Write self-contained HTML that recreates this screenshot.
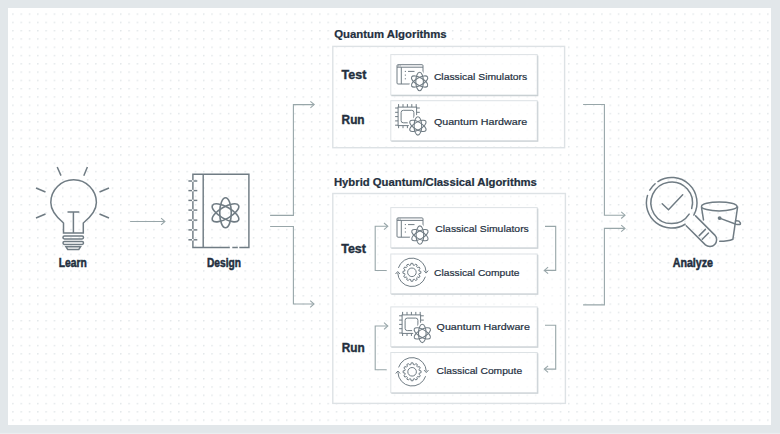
<!DOCTYPE html><html><head><meta charset="utf-8"><style>html,body{margin:0;padding:0;background:#e2e7ea;}svg{display:block;font-family:"Liberation Sans",sans-serif;}</style></head><body>
<svg width="780" height="434" viewBox="0 0 780 434">
<defs><pattern id="dots" x="12.2" y="13.4" width="8.296" height="8.286" patternUnits="userSpaceOnUse"><circle cx="0.7" cy="0.7" r="0.85" fill="#e1e6e9"/></pattern></defs>
<rect x="0" y="0" width="780" height="434" fill="#e2e7ea"/><rect x="0" y="432.8" width="780" height="1.2" fill="#eaeef0"/>
<rect x="8" y="8" width="763" height="417" fill="#fff"/>
<rect x="8" y="8" width="763" height="417" fill="url(#dots)"/>
<rect x="332.8" y="46.4" width="231.8" height="101.3" fill="#fff" fill-opacity="0.5" stroke="#dde2e5" stroke-width="1.4"/>
<rect x="332.8" y="193.5" width="232.6" height="209.9" fill="#fff" fill-opacity="0.5" stroke="#dde2e5" stroke-width="1.4"/>
<rect x="390.8" y="54.6" width="146.4" height="40.4" fill="#fff" fill-opacity="0.6" stroke="#dde2e5" stroke-width="1"/><path d="M391.3,95.6 H537.8000000000001 V55.4" fill="none" stroke="#c9d0d3" stroke-width="1.1"/>
<rect x="390.8" y="100.7" width="146.4" height="40.0" fill="#fff" fill-opacity="0.6" stroke="#dde2e5" stroke-width="1"/><path d="M391.3,141.29999999999998 H537.8000000000001 V101.5" fill="none" stroke="#c9d0d3" stroke-width="1.1"/>
<rect x="390.8" y="207.6" width="146.4" height="40.10000000000001" fill="#fff" fill-opacity="0.6" stroke="#dde2e5" stroke-width="1"/><path d="M391.3,248.29999999999998 H537.8000000000001 V208.4" fill="none" stroke="#c9d0d3" stroke-width="1.1"/>
<rect x="390.8" y="254" width="146.4" height="39.7" fill="#fff" fill-opacity="0.6" stroke="#dde2e5" stroke-width="1"/><path d="M391.3,294.3 H537.8000000000001 V254.8" fill="none" stroke="#c9d0d3" stroke-width="1.1"/>
<rect x="390.8" y="306.9" width="146.4" height="39.7" fill="#fff" fill-opacity="0.6" stroke="#dde2e5" stroke-width="1"/><path d="M391.3,347.2 H537.8000000000001 V307.7" fill="none" stroke="#c9d0d3" stroke-width="1.1"/>
<rect x="390.8" y="352.5" width="146.4" height="40.2" fill="#fff" fill-opacity="0.6" stroke="#dde2e5" stroke-width="1"/><path d="M391.3,393.3 H537.8000000000001 V353.3" fill="none" stroke="#c9d0d3" stroke-width="1.1"/>
<path d="M130.1,221.5 H164.5" fill="none" stroke="#98a6a9" stroke-width="1.1"/><path d="M161.1,218.2 L164.9,221.5 L161.1,224.8" fill="none" stroke="#98a6a9" stroke-width="1.1"/>
<path d="M270.1,215.4 H293.4 V104.6 H313.8" fill="none" stroke="#98a6a9" stroke-width="1.1"/><path d="M310.4,101.3 L314.2,104.6 L310.4,107.89999999999999" fill="none" stroke="#98a6a9" stroke-width="1.1"/>
<path d="M270.1,226.5 H293.4 V304 H313.6" fill="none" stroke="#98a6a9" stroke-width="1.1"/><path d="M310.2,300.7 L314,304 L310.2,307.3" fill="none" stroke="#98a6a9" stroke-width="1.1"/>
<path d="M583.1,104.5 H604.4 V215.2 H624.6" fill="none" stroke="#98a6a9" stroke-width="1.1"/><path d="M621.2,211.89999999999998 L625,215.2 L621.2,218.5" fill="none" stroke="#98a6a9" stroke-width="1.1"/>
<path d="M583.1,304.9 H604.4 V228.4 H624.6" fill="none" stroke="#98a6a9" stroke-width="1.1"/><path d="M621.2,225.1 L625,228.4 L621.2,231.70000000000002" fill="none" stroke="#98a6a9" stroke-width="1.1"/>
<path d="M386.7,270.5 H375.2 V226.3 H387.4" fill="none" stroke="#98a6a9" stroke-width="1.1"/><path d="M384.0,223.0 L387.8,226.3 L384.0,229.60000000000002" fill="none" stroke="#98a6a9" stroke-width="1.1"/>
<path d="M545,226.4 H555.7 V270.4 H544.7" fill="none" stroke="#98a6a9" stroke-width="1.1"/><path d="M548.0999999999999,267.09999999999997 L544.3,270.4 L548.0999999999999,273.7" fill="none" stroke="#98a6a9" stroke-width="1.1"/>
<path d="M386.7,369.8 H375.2 V326 H387.4" fill="none" stroke="#98a6a9" stroke-width="1.1"/><path d="M384.0,322.7 L387.8,326 L384.0,329.3" fill="none" stroke="#98a6a9" stroke-width="1.1"/>
<path d="M545,325.3 H555.7 V369.1 H544.7" fill="none" stroke="#98a6a9" stroke-width="1.1"/><path d="M548.0999999999999,365.8 L544.3,369.1 L548.0999999999999,372.40000000000003" fill="none" stroke="#98a6a9" stroke-width="1.1"/>
<g fill="none" stroke="#707c84" stroke-width="1"><rect x="397.0" y="64.7" width="26" height="19.3" rx="1"/><line x1="397.0" y1="67.2" x2="423.0" y2="67.2"/><line x1="401.3" y1="67.2" x2="401.3" y2="84.0"/><line x1="408.0" y1="71.4" x2="414.5" y2="71.4"/></g><g fill="#707c84"><rect x="397.8" y="65.4" width="1" height="1"/><rect x="399.6" y="65.4" width="1" height="1"/><rect x="404.8" y="70.9" width="1.2" height="1"/><rect x="404.8" y="74.60000000000001" width="1.2" height="1"/><rect x="404.8" y="78.3" width="1.2" height="1"/></g><ellipse cx="419.6" cy="81.5" rx="3.8" ry="9.2" transform="rotate(0 419.6 81.5)" fill="#fff" stroke="#fff" stroke-width="4.1"/><ellipse cx="419.6" cy="81.5" rx="3.8" ry="9.2" transform="rotate(60 419.6 81.5)" fill="#fff" stroke="#fff" stroke-width="4.1"/><ellipse cx="419.6" cy="81.5" rx="3.8" ry="9.2" transform="rotate(-60 419.6 81.5)" fill="#fff" stroke="#fff" stroke-width="4.1"/><ellipse cx="419.6" cy="81.5" rx="3.8" ry="9.2" transform="rotate(0 419.6 81.5)" fill="none" stroke="#707c84" stroke-width="1.1"/><ellipse cx="419.6" cy="81.5" rx="3.8" ry="9.2" transform="rotate(60 419.6 81.5)" fill="none" stroke="#707c84" stroke-width="1.1"/><ellipse cx="419.6" cy="81.5" rx="3.8" ry="9.2" transform="rotate(-60 419.6 81.5)" fill="none" stroke="#707c84" stroke-width="1.1"/>
<g fill="none" stroke="#707c84" stroke-width="1"><rect x="398.1" y="107.1" width="18.5" height="18.5"/><rect x="401.1" y="110.3" width="12.8" height="12.5" rx="2.2"/><line x1="398.6" y1="104.1" x2="398.6" y2="107.1"/><line x1="395.1" y1="108.0" x2="398.1" y2="108.0"/><line x1="403.0" y1="104.1" x2="403.0" y2="107.1"/><line x1="395.1" y1="112.3" x2="398.1" y2="112.3"/><line x1="407.40000000000003" y1="104.1" x2="407.40000000000003" y2="107.1"/><line x1="395.1" y1="116.6" x2="398.1" y2="116.6"/><line x1="411.8" y1="104.1" x2="411.8" y2="107.1"/><line x1="395.1" y1="120.9" x2="398.1" y2="120.9"/><line x1="416.20000000000005" y1="104.1" x2="416.20000000000005" y2="107.1"/><line x1="395.1" y1="125.2" x2="398.1" y2="125.2"/><line x1="416.6" y1="108.0" x2="419.8" y2="108.0"/><line x1="416.6" y1="112.3" x2="419.8" y2="112.3"/><line x1="398.6" y1="125.6" x2="398.6" y2="128.2"/><line x1="403.0" y1="125.6" x2="403.0" y2="128.2"/><line x1="407.40000000000003" y1="125.6" x2="407.40000000000003" y2="128.2"/></g><ellipse cx="417.9" cy="125.9" rx="3.8" ry="9.2" transform="rotate(0 417.9 125.9)" fill="#fff" stroke="#fff" stroke-width="4.1"/><ellipse cx="417.9" cy="125.9" rx="3.8" ry="9.2" transform="rotate(60 417.9 125.9)" fill="#fff" stroke="#fff" stroke-width="4.1"/><ellipse cx="417.9" cy="125.9" rx="3.8" ry="9.2" transform="rotate(-60 417.9 125.9)" fill="#fff" stroke="#fff" stroke-width="4.1"/><ellipse cx="417.9" cy="125.9" rx="3.8" ry="9.2" transform="rotate(0 417.9 125.9)" fill="none" stroke="#707c84" stroke-width="1.1"/><ellipse cx="417.9" cy="125.9" rx="3.8" ry="9.2" transform="rotate(60 417.9 125.9)" fill="none" stroke="#707c84" stroke-width="1.1"/><ellipse cx="417.9" cy="125.9" rx="3.8" ry="9.2" transform="rotate(-60 417.9 125.9)" fill="none" stroke="#707c84" stroke-width="1.1"/>
<g fill="none" stroke="#707c84" stroke-width="1"><rect x="397.0" y="217.9" width="26" height="19.3" rx="1"/><line x1="397.0" y1="220.4" x2="423.0" y2="220.4"/><line x1="401.3" y1="220.4" x2="401.3" y2="237.20000000000002"/><line x1="408.0" y1="224.6" x2="414.5" y2="224.6"/></g><g fill="#707c84"><rect x="397.8" y="218.6" width="1" height="1"/><rect x="399.6" y="218.6" width="1" height="1"/><rect x="404.8" y="224.1" width="1.2" height="1"/><rect x="404.8" y="227.8" width="1.2" height="1"/><rect x="404.8" y="231.5" width="1.2" height="1"/></g><ellipse cx="419.9" cy="235.1" rx="3.8" ry="9.2" transform="rotate(0 419.9 235.1)" fill="#fff" stroke="#fff" stroke-width="4.1"/><ellipse cx="419.9" cy="235.1" rx="3.8" ry="9.2" transform="rotate(60 419.9 235.1)" fill="#fff" stroke="#fff" stroke-width="4.1"/><ellipse cx="419.9" cy="235.1" rx="3.8" ry="9.2" transform="rotate(-60 419.9 235.1)" fill="#fff" stroke="#fff" stroke-width="4.1"/><ellipse cx="419.9" cy="235.1" rx="3.8" ry="9.2" transform="rotate(0 419.9 235.1)" fill="none" stroke="#707c84" stroke-width="1.1"/><ellipse cx="419.9" cy="235.1" rx="3.8" ry="9.2" transform="rotate(60 419.9 235.1)" fill="none" stroke="#707c84" stroke-width="1.1"/><ellipse cx="419.9" cy="235.1" rx="3.8" ry="9.2" transform="rotate(-60 419.9 235.1)" fill="none" stroke="#707c84" stroke-width="1.1"/>
<g fill="none" stroke="#707c84" stroke-width="1"><path d="M398.39,267.91 A14.2,14.2 0 0 1 426.09,271.80"/><path d="M425.41,276.69 A14.2,14.2 0 0 1 397.71,272.80"/><path d="M423.89,270.60 L426.09,273.10 L428.29,270.60"/><path d="M395.51,274.00 L397.71,271.50 L399.91,274.00"/><path d="M419.09,271.03 L420.85,271.36 L420.85,273.24 L419.09,273.57 L418.76,274.80 L420.12,275.96 L419.18,277.59 L417.49,276.99 L416.59,277.89 L417.19,279.58 L415.56,280.52 L414.40,279.16 L413.17,279.49 L412.84,281.25 L410.96,281.25 L410.63,279.49 L409.40,279.16 L408.24,280.52 L406.61,279.58 L407.21,277.89 L406.31,276.99 L404.62,277.59 L403.68,275.96 L405.04,274.80 L404.71,273.57 L402.95,273.24 L402.95,271.36 L404.71,271.03 L405.04,269.80 L403.68,268.64 L404.62,267.01 L406.31,267.61 L407.21,266.71 L406.61,265.02 L408.24,264.08 L409.40,265.44 L410.63,265.11 L410.96,263.35 L412.84,263.35 L413.17,265.11 L414.40,265.44 L415.56,264.08 L417.19,265.02 L416.59,266.71 L417.49,267.61 L419.18,267.01 L420.12,268.64 L418.76,269.80 Z" stroke-linejoin="round"/><circle cx="411.9" cy="272.3" r="4.3"/></g>
<g fill="none" stroke="#707c84" stroke-width="1"><rect x="402.1" y="314.9" width="18.5" height="18.5"/><rect x="405.1" y="318.09999999999997" width="12.8" height="12.5" rx="2.2"/><line x1="402.6" y1="311.9" x2="402.6" y2="314.9"/><line x1="399.1" y1="315.79999999999995" x2="402.1" y2="315.79999999999995"/><line x1="407.0" y1="311.9" x2="407.0" y2="314.9"/><line x1="399.1" y1="320.09999999999997" x2="402.1" y2="320.09999999999997"/><line x1="411.40000000000003" y1="311.9" x2="411.40000000000003" y2="314.9"/><line x1="399.1" y1="324.4" x2="402.1" y2="324.4"/><line x1="415.8" y1="311.9" x2="415.8" y2="314.9"/><line x1="399.1" y1="328.69999999999993" x2="402.1" y2="328.69999999999993"/><line x1="420.20000000000005" y1="311.9" x2="420.20000000000005" y2="314.9"/><line x1="399.1" y1="332.99999999999994" x2="402.1" y2="332.99999999999994"/><line x1="420.6" y1="315.79999999999995" x2="423.8" y2="315.79999999999995"/><line x1="420.6" y1="320.09999999999997" x2="423.8" y2="320.09999999999997"/><line x1="402.6" y1="333.4" x2="402.6" y2="336.0"/><line x1="407.0" y1="333.4" x2="407.0" y2="336.0"/><line x1="411.40000000000003" y1="333.4" x2="411.40000000000003" y2="336.0"/></g><ellipse cx="422.3" cy="333.4" rx="3.8" ry="9.2" transform="rotate(0 422.3 333.4)" fill="#fff" stroke="#fff" stroke-width="4.1"/><ellipse cx="422.3" cy="333.4" rx="3.8" ry="9.2" transform="rotate(60 422.3 333.4)" fill="#fff" stroke="#fff" stroke-width="4.1"/><ellipse cx="422.3" cy="333.4" rx="3.8" ry="9.2" transform="rotate(-60 422.3 333.4)" fill="#fff" stroke="#fff" stroke-width="4.1"/><ellipse cx="422.3" cy="333.4" rx="3.8" ry="9.2" transform="rotate(0 422.3 333.4)" fill="none" stroke="#707c84" stroke-width="1.1"/><ellipse cx="422.3" cy="333.4" rx="3.8" ry="9.2" transform="rotate(60 422.3 333.4)" fill="none" stroke="#707c84" stroke-width="1.1"/><ellipse cx="422.3" cy="333.4" rx="3.8" ry="9.2" transform="rotate(-60 422.3 333.4)" fill="none" stroke="#707c84" stroke-width="1.1"/>
<g fill="none" stroke="#707c84" stroke-width="1"><path d="M398.59,367.41 A14.2,14.2 0 0 1 426.29,371.30"/><path d="M425.61,376.19 A14.2,14.2 0 0 1 397.91,372.30"/><path d="M424.09,370.10 L426.29,372.60 L428.49,370.10"/><path d="M395.71,373.50 L397.91,371.00 L400.11,373.50"/><path d="M419.29,370.53 L421.05,370.86 L421.05,372.74 L419.29,373.07 L418.96,374.30 L420.32,375.46 L419.38,377.09 L417.69,376.49 L416.79,377.39 L417.39,379.08 L415.76,380.02 L414.60,378.66 L413.37,378.99 L413.04,380.75 L411.16,380.75 L410.83,378.99 L409.60,378.66 L408.44,380.02 L406.81,379.08 L407.41,377.39 L406.51,376.49 L404.82,377.09 L403.88,375.46 L405.24,374.30 L404.91,373.07 L403.15,372.74 L403.15,370.86 L404.91,370.53 L405.24,369.30 L403.88,368.14 L404.82,366.51 L406.51,367.11 L407.41,366.21 L406.81,364.52 L408.44,363.58 L409.60,364.94 L410.83,364.61 L411.16,362.85 L413.04,362.85 L413.37,364.61 L414.60,364.94 L415.76,363.58 L417.39,364.52 L416.79,366.21 L417.69,367.11 L419.38,366.51 L420.32,368.14 L418.96,369.30 Z" stroke-linejoin="round"/><circle cx="412.1" cy="371.8" r="4.3"/></g>
<g fill="none" stroke="#707c84" stroke-width="1.5" stroke-linecap="butt"><path d="M63.5,233 V223 C58,218.5 50.8,211 50.8,202.6 A22.8,22.8 0 0 1 96.4,202.6 C96.4,211 89,218.5 83.3,223 V233 Z"/><path d="M73.4,233 V212 M67.5,212 H79.3"/><rect x="63" y="236.1" width="20.5" height="2.9" rx="1.4"/><rect x="63" y="241.6" width="20.5" height="2.9" rx="1.4"/><path d="M66,246.8 H80.5 L78.8,249.4 H67.7 Z"/><path d="M57.2,167 L61,175.6 M87.4,167 L83.8,175.8 M36,188 L45.5,192 M36,218 L45.5,214 M99.5,192 L109,188 M99.5,214 L109,218"/></g>
<g fill="none" stroke="#707c84" stroke-width="1.45"><path d="M229.8,247.4 H192.9 V174.2 H248.9 V247.4 H239.3 M232.3,247.4 H237.8"/><path d="M203.2,174.2 V247.4"/>
<path d="M188.4,181 H197.3"/><rect x="192" y="180.2" width="1.6" height="1.6" fill="#fff" stroke="none"/>
<path d="M188.4,190.6 H197.3"/><rect x="192" y="189.79999999999998" width="1.6" height="1.6" fill="#fff" stroke="none"/>
<path d="M188.4,200.4 H197.3"/><rect x="192" y="199.6" width="1.6" height="1.6" fill="#fff" stroke="none"/>
<path d="M188.4,210.1 H197.3"/><rect x="192" y="209.29999999999998" width="1.6" height="1.6" fill="#fff" stroke="none"/>
<path d="M188.4,220.1 H197.3"/><rect x="192" y="219.29999999999998" width="1.6" height="1.6" fill="#fff" stroke="none"/>
<path d="M188.4,229.9 H197.3"/><rect x="192" y="229.1" width="1.6" height="1.6" fill="#fff" stroke="none"/>
<path d="M188.4,239.8 H197.3"/><rect x="192" y="239.0" width="1.6" height="1.6" fill="#fff" stroke="none"/>
</g>
<ellipse cx="225.5" cy="212.8" rx="5.8" ry="15" transform="rotate(0 225.5 212.8)" fill="none" stroke="#707c84" stroke-width="1.6"/><ellipse cx="225.5" cy="212.8" rx="5.8" ry="15" transform="rotate(60 225.5 212.8)" fill="none" stroke="#707c84" stroke-width="1.6"/><ellipse cx="225.5" cy="212.8" rx="5.8" ry="15" transform="rotate(-60 225.5 212.8)" fill="none" stroke="#707c84" stroke-width="1.6"/>
<g fill="none" stroke="#707c84" stroke-width="1.5" stroke-linecap="round">
<path d="M657.92,181.58 A25.3,25.3 0 0 1 693.83,215.07 M685.11,224.26 A25.3,25.3 0 0 1 647.51,195.40 M649.79,190.15 A25.3,25.3 0 0 1 655.10,183.71"/>
<path d="M689.14,214.13 A20.8,20.8 0 1 1 691.69,208.53"/>
<path d="M662.2,203.7 L668.5,209.7 L682.7,194.7"/>
<path d="M686.2,225.7 L705.4,244.9 A6.8,6.8 0 0 0 714.8,235.1 L695.6,215.9" />
<path d="M699.2,235.6 L705.4,229.4 M702.3,239.2 L708.5,233"/>
<ellipse cx="719.25" cy="206.4" rx="17.75" ry="4.5"/>
<path d="M701.5,207.4 L703.5,219.9 M737.6,207 L732.9,239.2 Q728,241.3 719.7,241.3"/>
<circle cx="719.6" cy="218.1" r="1.2" fill="#707c84"/>
<path d="M719.6,218.1 L736,224.2 Q741.2,225.4 740.3,222.8 Q739.3,220.6 735.8,220.9"/>
</g>
<text x="334.2" y="38" font-size="11" font-weight="bold" fill="#232f3e" stroke="#232f3e" stroke-width="0.22" textLength="112.5" lengthAdjust="spacingAndGlyphs">Quantum Algorithms</text>
<text x="333.9" y="185.7" font-size="11" font-weight="bold" fill="#232f3e" stroke="#232f3e" stroke-width="0.22" textLength="203" lengthAdjust="spacingAndGlyphs">Hybrid Quantum/Classical Algorithms</text>
<text x="341.6" y="79.3" font-size="13" font-weight="bold" fill="#232f3e" stroke="#232f3e" stroke-width="0.4" textLength="24.7" lengthAdjust="spacingAndGlyphs">Test</text>
<text x="341.6" y="124.3" font-size="13" font-weight="bold" fill="#232f3e" stroke="#232f3e" stroke-width="0.4" textLength="23" lengthAdjust="spacingAndGlyphs">Run</text>
<text x="341.2" y="252.8" font-size="13" font-weight="bold" fill="#232f3e" stroke="#232f3e" stroke-width="0.4" textLength="24.7" lengthAdjust="spacingAndGlyphs">Test</text>
<text x="341.7" y="352" font-size="13" font-weight="bold" fill="#232f3e" stroke="#232f3e" stroke-width="0.4" textLength="23" lengthAdjust="spacingAndGlyphs">Run</text>
<text x="58.8" y="267.3" font-size="12.5" font-weight="bold" fill="#232f3e" stroke="#232f3e" stroke-width="0.5" textLength="28" lengthAdjust="spacingAndGlyphs">Learn</text>
<text x="207" y="266.5" font-size="12.5" font-weight="bold" fill="#232f3e" stroke="#232f3e" stroke-width="0.5" textLength="34" lengthAdjust="spacingAndGlyphs">Design</text>
<text x="672.7" y="267" font-size="12.5" font-weight="bold" fill="#232f3e" stroke="#232f3e" stroke-width="0.5" textLength="40.3" lengthAdjust="spacingAndGlyphs">Analyze</text>
<text x="433.9" y="80.3" font-size="9.8" font-weight="normal" fill="#232f3e" stroke="#232f3e" stroke-width="0.2" textLength="93.3" lengthAdjust="spacingAndGlyphs">Classical Simulators</text>
<text x="433.9" y="124.6" font-size="9.8" font-weight="normal" fill="#232f3e" stroke="#232f3e" stroke-width="0.2" textLength="93.3" lengthAdjust="spacingAndGlyphs">Quantum Hardware</text>
<text x="435.3" y="231.5" font-size="9.8" font-weight="normal" fill="#232f3e" stroke="#232f3e" stroke-width="0.2" textLength="93.5" lengthAdjust="spacingAndGlyphs">Classical Simulators</text>
<text x="434.1" y="276" font-size="9.8" font-weight="normal" fill="#232f3e" stroke="#232f3e" stroke-width="0.2" textLength="85.4" lengthAdjust="spacingAndGlyphs">Classical Compute</text>
<text x="436.6" y="329.9" font-size="9.8" font-weight="normal" fill="#232f3e" stroke="#232f3e" stroke-width="0.2" textLength="93.3" lengthAdjust="spacingAndGlyphs">Quantum Hardware</text>
<text x="436.6" y="373.9" font-size="9.8" font-weight="normal" fill="#232f3e" stroke="#232f3e" stroke-width="0.2" textLength="85.5" lengthAdjust="spacingAndGlyphs">Classical Compute</text>
</svg></body></html>
